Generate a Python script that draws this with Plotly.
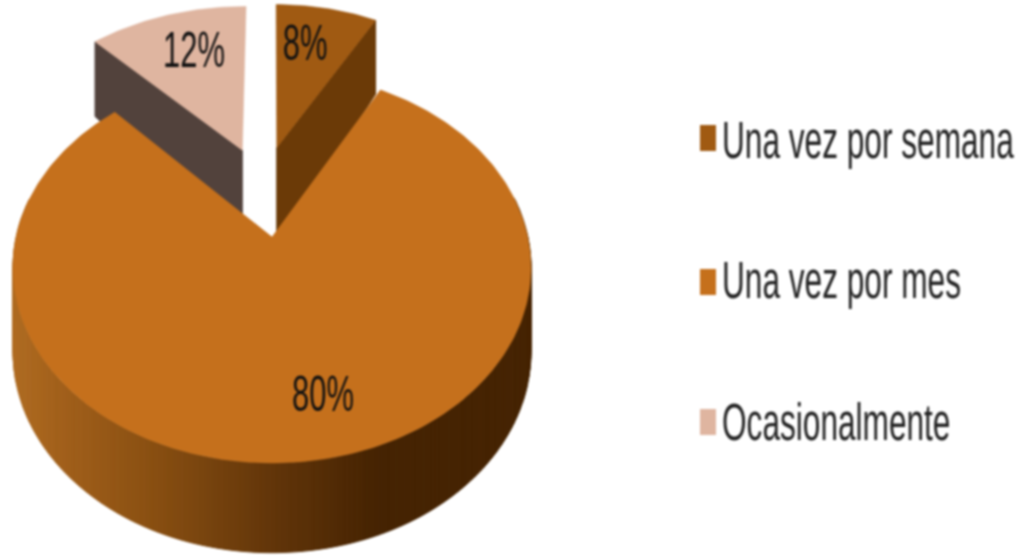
import numpy as np
import plotly.graph_objects as go

categories = ["Una vez por semana", "Una vez por mes", "Ocasionalmente"]
values = [8, 80, 12]
labels = ["8%", "80%", "12%"]
top_colors = ["#A05A12", "#C5701C", "#DFB5A0"]
side_colors = ["#6B3A07", "#7A4510", "#52423C"]
explode = [(0.02, 0.505), (0.0, 0.0), (-0.125, 0.49)]
stretch = [0.98, 1.0, 1.02]
label_pos = [(305, 43), (323, 394), (194, 50)]
legend_y = [138, 282, 422]
legend_text_y = [140, 280, 422]

CX, CY, AX, BY, K = 272, 237, 255.8, 190.7, 0.156
FONT = "Liberation Sans, Arial, sans-serif"


def project(X, Y):
    w = 1 + K * Y
    return CX + AX * X / w, CY - BY * Y / w, 126 - 43 * w


def arc(start, stop, n):
    t = np.radians(np.linspace(start, stop, n))
    return np.sin(t), np.cos(t)


GRAD_X = [12, 60, 150, 270, 380, 530]
GRAD_R = [0xB0, 0xA2, 0x8A, 0x63, 0x45, 0x45]
GRAD_G = [0x6C, 0x60, 0x50, 0x36, 0x23, 0x23]
GRAD_B = [0x22, 0x1B, 0x12, 0x0A, 0x02, 0x02]


def wall_colour(x):
    return "rgb(%d,%d,%d)" % (
        np.interp(x, GRAD_X, GRAD_R),
        np.interp(x, GRAD_X, GRAD_G),
        np.interp(x, GRAD_X, GRAD_B),
    )


def poly(xs, ys, colour, width=0.0):
    return go.Scatter(
        x=list(xs) + [xs[0]], y=list(ys) + [ys[0]], mode="lines", fill="toself",
        fillcolor=colour, line=dict(color=colour, width=width),
        hoverinfo="skip", showlegend=False,
    )


fig = go.Figure()
total = sum(values)
spans = []
a = 0.0
for v in values:
    spans.append((a, a + 360.0 * v / total))
    a += 360.0 * v / total

for i in (2, 0, 1):
    s0, s1 = spans[i]
    ox, oy = explode[i]
    n = max(8, int(s1 - s0))
    ax, ay = arc(s0, s1, n)
    px, py, pd = project(ax * stretch[i] + ox, ay + oy)
    cx, cy, cd = project(ox, oy)
    if i == 1:
        for j in range(len(px) - 1):
            if py[j] < 200 and py[j + 1] < 200:
                continue
            fig.add_trace(poly([px[j], px[j + 1], px[j + 1], px[j]],
                               [py[j], py[j + 1], py[j + 1] + pd[j + 1], py[j] + pd[j]],
                               wall_colour((px[j] + px[j + 1]) / 2), 1))
    else:
        e = -1 if i == 0 else 0
        fig.add_trace(poly([px[e], cx, cx, px[e]],
                           [py[e], cy, cy + cd + 20, py[e] + pd[e]], side_colors[i], 1))
    fig.add_trace(poly([cx] + list(px), [cy] + list(py), top_colors[i], 0.5))

# legend swatches and texts
for name, col, yc in zip(categories, top_colors, legend_y):
    fig.add_shape(type="rect", x0=700, x1=716, y0=yc - 13, y1=yc + 13,
                  fillcolor=col, line=dict(width=0), name=name)

for txt, (x, y) in zip(labels, label_pos):
    fig.add_annotation(x=x, y=y, text=txt, showarrow=False,
                       font=dict(family=FONT, size=50, color="#111111"))
for name, yt in zip(categories, legend_text_y):
    fig.add_annotation(x=720, y=yt, text=name, showarrow=False, xanchor="left",
                       font=dict(family=FONT, size=51, color="#222222"))

fig.update_layout(
    width=1022, height=556, margin=dict(l=0, r=0, t=0, b=0),
    paper_bgcolor="white", plot_bgcolor="white", showlegend=False,
    xaxis=dict(range=[0, 1022], visible=False, fixedrange=True),
    yaxis=dict(range=[556, 0], visible=False, fixedrange=True),
)

POST = """
document.body.style.margin = '0';
document.documentElement.style.overflow = 'hidden';
var gd = document.querySelector('.js-plotly-plot');
gd.querySelectorAll('.annotation-text').forEach(function (t, i) {
  var b = t.getBBox();
  var cx = i >= 3 ? b.x : b.x + b.width / 2;
  var cy = b.y + b.height / 2;
  t.setAttribute('transform', 'translate(' + cx + ',' + cy + ') scale(0.62,1) translate(' + (-cx) + ',' + (-cy) + ')');
});
gd.style.filter = 'blur(0.8px)';
"""
fig.write_html("out.html", config=dict(displayModeBar=False), post_script=POST)
